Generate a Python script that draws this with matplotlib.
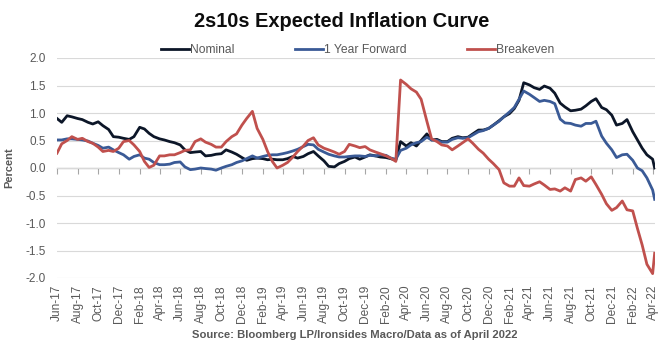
import numpy as np
import pandas as pd
import matplotlib
matplotlib.use("Agg")
import matplotlib.pyplot as plt
import matplotlib.dates as mdates
from matplotlib import rcParams

rcParams["font.family"] = "Liberation Sans"
rcParams["axes.unicode_minus"] = False

# semi-monthly readings, Jun-17 .. Apr-22, plus the last print
dates = list(pd.date_range("2017-06-01", periods=117, freq="SMS")) + [pd.Timestamp("2022-04-07")]

nominal = [
    0.90, 0.83, 0.95, 0.93, 0.90, 0.88, 0.83, 0.80, 0.84, 0.77,
    0.70, 0.57, 0.56, 0.54, 0.52, 0.57, 0.74, 0.71, 0.63, 0.57,
    0.53, 0.51, 0.48, 0.46, 0.42, 0.33, 0.28, 0.29, 0.30, 0.22,
    0.23, 0.25, 0.26, 0.33, 0.29, 0.25, 0.19, 0.14, 0.17, 0.18,
    0.17, 0.15, 0.16, 0.15, 0.15, 0.17, 0.21, 0.18, 0.21, 0.26,
    0.30, 0.22, 0.13, 0.03, 0.02, 0.08, 0.12, 0.17, 0.20, 0.16,
    0.20, 0.24, 0.22, 0.20, 0.19, 0.17, 0.14, 0.48, 0.40, 0.46,
    0.40, 0.50, 0.62, 0.51, 0.52, 0.48, 0.48, 0.54, 0.57, 0.55,
    0.56, 0.62, 0.69, 0.69, 0.72, 0.78, 0.86, 0.93, 0.99, 1.08,
    1.23, 1.55, 1.51, 1.46, 1.43, 1.49, 1.45, 1.36, 1.18, 1.11,
    1.04, 1.05, 1.07, 1.13, 1.21, 1.26, 1.10, 1.06, 0.96, 0.78,
    0.81, 0.88, 0.66, 0.51, 0.36, 0.24, 0.16, 0.00,
]

one_year_fwd = [
    0.51, 0.51, 0.53, 0.53, 0.52, 0.51, 0.49, 0.45, 0.41, 0.36,
    0.38, 0.33, 0.28, 0.24, 0.16, 0.21, 0.24, 0.18, 0.16, 0.10,
    0.06, 0.06, 0.07, 0.10, 0.11, 0.02, -0.03, -0.02, 0.00, -0.01,
    -0.02, -0.04, 0.00, 0.03, 0.06, 0.10, 0.13, 0.17, 0.22, 0.18,
    0.21, 0.23, 0.24, 0.24, 0.26, 0.28, 0.31, 0.34, 0.39, 0.43,
    0.42, 0.34, 0.29, 0.25, 0.22, 0.20, 0.20, 0.21, 0.22, 0.22,
    0.21, 0.23, 0.22, 0.24, 0.23, 0.18, 0.16, 0.32, 0.36, 0.42,
    0.46, 0.48, 0.56, 0.51, 0.50, 0.47, 0.47, 0.52, 0.55, 0.54,
    0.55, 0.60, 0.66, 0.68, 0.72, 0.78, 0.85, 0.93, 1.02, 1.10,
    1.25, 1.40, 1.34, 1.28, 1.21, 1.23, 1.21, 1.17, 0.89, 0.82,
    0.81, 0.78, 0.76, 0.81, 0.81, 0.85, 0.58, 0.45, 0.33, 0.19,
    0.24, 0.25, 0.14, 0.00, -0.05, -0.18, -0.40, -0.57,
]

breakeven = [
    0.27, 0.44, 0.50, 0.57, 0.52, 0.54, 0.48, 0.45, 0.38, 0.30,
    0.32, 0.30, 0.36, 0.48, 0.50, 0.42, 0.30, 0.12, 0.01, 0.05,
    0.22, 0.22, 0.24, 0.24, 0.28, 0.32, 0.33, 0.48, 0.53, 0.47,
    0.43, 0.38, 0.38, 0.48, 0.57, 0.62, 0.78, 0.90, 1.03, 0.72,
    0.52, 0.30, 0.12, 0.00, 0.05, 0.10, 0.20, 0.30, 0.40, 0.50,
    0.55, 0.42, 0.36, 0.33, 0.29, 0.25, 0.30, 0.43, 0.40, 0.37,
    0.39, 0.33, 0.29, 0.26, 0.22, 0.18, 0.12, 1.60, 1.52, 1.44,
    1.38, 1.25, 0.85, 0.53, 0.48, 0.42, 0.40, 0.33, 0.40, 0.46,
    0.53, 0.45, 0.34, 0.27, 0.16, 0.08, -0.03, -0.27, -0.33, -0.33,
    -0.18, -0.32, -0.33, -0.29, -0.25, -0.31, -0.39, -0.38, -0.42, -0.36,
    -0.42, -0.21, -0.18, -0.24, -0.16, -0.30, -0.48, -0.65, -0.77, -0.72,
    -0.60, -0.76, -0.78, -1.10, -1.40, -1.75, -1.92, -1.55,
]

series = [("Nominal", nominal, "#0C1628"),
          ("1 Year Forward", one_year_fwd, "#3A5A96"),
          ("Breakeven", breakeven, "#C0504D")]

GREY_TXT = "#595959"

fig = plt.figure(figsize=(6.65, 3.49), dpi=100)
ax = fig.add_axes([57 / 665, 1 - 278 / 349, 598 / 665, 220 / 349])

for name, vals, col in series:
    ax.plot(dates, vals, color=col, lw=2.0, label=name, solid_joinstyle="round")

ax.set_ylim(-2, 2)
ax.set_yticks(np.arange(-2, 2.01, 0.5))
ax.yaxis.set_major_formatter(matplotlib.ticker.FormatStrFormatter("%.1f"))
ax.set_xlim(pd.Timestamp("2017-06-01"), pd.Timestamp("2022-04-08"))

tick_loc = mdates.MonthLocator(bymonth=[2, 4, 6, 8, 10, 12], bymonthday=1)
ax.xaxis.set_major_locator(tick_loc)
ax.xaxis.set_major_formatter(mdates.DateFormatter("%b-%y"))
ax.tick_params(axis="x", length=0, pad=5, labelsize=8.6, labelcolor=GREY_TXT, rotation=90)
ax.tick_params(axis="y", length=0, pad=8, labelsize=8.5, labelcolor=GREY_TXT)

ax.grid(axis="y", color="#D9D9D9", lw=0.8)
ax.set_axisbelow(True)
for s in ax.spines.values():
    s.set_visible(False)

# axis line through zero with its tick marks
sec = ax.secondary_xaxis(0.5)
sec.set_alignment("bottom")
sec.xaxis.set_major_locator(mdates.MonthLocator(bymonth=[2, 4, 6, 8, 10, 12], bymonthday=1))
sec.tick_params(axis="x", length=4, width=0.8, color="#A6A6A6", direction="out", labelbottom=False, labeltop=False)
sec.spines["bottom"].set_color("#A6A6A6")
sec.spines["bottom"].set_linewidth(0.9)

ax.set_ylabel("Percent", fontsize=8, fontweight="bold", color=GREY_TXT)
ax.yaxis.set_label_coords(-0.072, 0.5)

fig.text(0.513, 0.937, "2s10s Expected Inflation Curve", ha="center", va="center",
         fontsize=14.4, fontweight="bold", color="#0D0D0D")
fig.legend(loc="center", bbox_to_anchor=(0.538, 0.857), ncol=3, frameon=False,
           fontsize=8.7, handlelength=2.3, handletextpad=0.1, columnspacing=5.0,
           labelcolor=GREY_TXT)
fig.text(0.534, 0.040, "Source: Bloomberg LP/Ironsides Macro/Data as of April 2022",
         ha="center", va="center", fontsize=8.1, fontweight="bold", color=GREY_TXT)

plt.savefig("out.png", dpi=100)
plt.close()
